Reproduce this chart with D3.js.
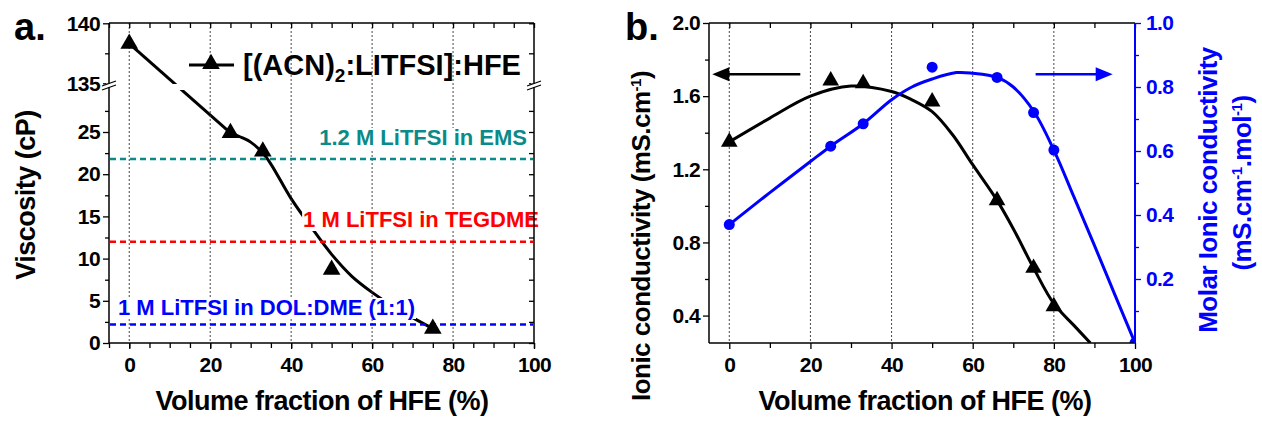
<!DOCTYPE html>
<html>
<head>
<meta charset="utf-8">
<script src="https://cdn.jsdelivr.net/npm/d3@7"></script>
<style>
  body { margin: 0; background: #fff; }
  svg text { font-family: 'Liberation Sans', Arial, Helvetica, sans-serif; font-weight: bold; }
  .tick text { letter-spacing: -0.6px; }
  .title { letter-spacing: -0.5px; }
</style>
</head>
<body>
<script>
// ---------- shared x axis ----------
const xTickValues = [0, 20, 40, 60, 80, 100];

// ---------- panel a: viscosity ----------
const viscX = [0, 25, 33, 50, 75];
const viscY = [138.3, 24.9, 22.7, 8.7, 1.7];
// smoothed guide curve
const viscFitX = [0, 25, 28, 30, 33, 35, 40, 45, 50, 55, 60, 65, 70, 75];
const viscFitY = [138.3, 24.9, 24.3, 23.8, 22.5, 21.2, 17.1, 13.7, 10.5, 7.9, 6.0, 4.4, 3.0, 1.7];
const viscTicksLow = [0, 5, 10, 15, 20, 25];
const viscMinorLow = [2.5, 7.5, 12.5, 17.5, 22.5, 27.5];
const viscTicksHigh = [135, 140];
const viscMinorHigh = [137.5];
const refNames = ["1.2 M LiTFSI in EMS", "1 M LiTFSI in TEGDME", "1 M LiTFSI in DOL:DME (1:1)"];
const refValues = [21.8, 12.0, 2.2];
const refColors = ["#0b8a8a", "#ff0000", "#0000ff"];

// ---------- panel b: conductivity ----------
const condX = [0, 25, 33, 50, 66, 75, 80];
const ionicCond = [1.35, 1.685, 1.67, 1.57, 1.03, 0.66, 0.45];
const ionicFitX = [0, 10, 20, 30, 40, 45, 50, 55, 60, 66, 70, 75, 80, 85, 89];
const ionicFitY = [1.35, 1.48, 1.60, 1.655, 1.625, 1.58, 1.515, 1.39, 1.225, 1.03, 0.875, 0.66, 0.465, 0.345, 0.25];
const molarX = [0, 25, 33, 50, 66, 75, 80, 100];
const molarCond = [0.37, 0.615, 0.685, 0.862, 0.83, 0.72, 0.603, 0.0];
const molarFitX = [0, 10, 20, 25, 33, 40, 45, 50, 56, 60, 66, 70, 75, 80, 85, 90, 95, 100];
const molarFitY = [0.37, 0.47, 0.567, 0.615, 0.685, 0.76, 0.80, 0.825, 0.845, 0.843, 0.83, 0.80, 0.725, 0.603, 0.455, 0.305, 0.152, 0.0];
const ionicTicks = [0.4, 0.8, 1.2, 1.6, 2.0];
const ionicMinor = [0.6, 1.0, 1.4, 1.8];
const molarTicks = [0.2, 0.4, 0.6, 0.8, 1.0];
const molarMinor = [0.1, 0.3, 0.5, 0.7, 0.9];

const W = 1262, H = 421;
const BLUE = "#0000ff";
const TICK_FONT = 21;
const svg = d3.select("body").append("svg").attr("width", W).attr("height", H);

function styleAxis(g, color, size) {
  g.select(".domain").remove();
  g.selectAll(".tick line").attr("stroke", color).attr("stroke-width", 1.3);
  g.selectAll(".tick text").attr("fill", color).style("font-size", size + "px");
}

// ======================= panel a =======================
const A = { l: 109, r: 534, t: 23, b: 343 };
const xa = d3.scaleLinear().domain([-5, 100]).range([A.l, A.r]);
const yaLow = d3.scaleLinear().domain([0, 25]).range([343, 132]);
const yaHigh = d3.scaleLinear().domain([135, 140]).range([83.3, 23.3]);
const ya = v => (v >= 100 ? yaHigh(v) : yaLow(v));
const gA = svg.append("g");

const viscPts = d3.zip(viscFitX, viscFitY);
// straight run across the axis break
gA.append("path")
  .attr("d", d3.line().x(d => xa(d[0])).y(d => ya(d[1]))(viscPts.slice(0, 2)))
  .attr("fill", "none").attr("stroke", "#000").attr("stroke-width", 3);
// smooth run below the break
gA.append("path")
  .attr("d", d3.line().curve(d3.curveCatmullRom).x(d => xa(d[0])).y(d => ya(d[1]))(viscPts.slice(1)))
  .attr("fill", "none").attr("stroke", "#000").attr("stroke-width", 3);
// gap at the axis break
gA.append("rect").attr("x", A.l + 1).attr("y", 84).attr("width", A.r - A.l - 2).attr("height", 6).attr("fill", "#fff");

// vertical grid
gA.selectAll("line.grid").data(xTickValues.filter(v => v < 100)).join("line")
  .attr("x1", d => xa(d)).attr("x2", d => xa(d)).attr("y1", A.t).attr("y2", A.b)
  .attr("stroke", "#333").attr("stroke-width", 0.9).attr("stroke-dasharray", "2,2");

// reference electrolytes
gA.selectAll("line.ref").data(refValues).join("line")
  .attr("x1", A.l + 1).attr("x2", A.r - 1)
  .attr("y1", d => ya(d)).attr("y2", d => ya(d))
  .attr("stroke", (d, i) => refColors[i]).attr("stroke-width", 2.6).attr("stroke-dasharray", "6,4");

const refPos = [
  { x: 527, y: 145, anchor: "end" },
  { x: 539, y: 227, anchor: "end" },
  { x: 118, y: 315, anchor: "start" }
];
refNames.forEach((name, i) => {
  const g = gA.append("g");
  const t = g.append("text").attr("x", refPos[i].x).attr("y", refPos[i].y)
    .attr("text-anchor", refPos[i].anchor).attr("fill", refColors[i])
    .style("font-size", "22px").text(name);
  const bb = t.node().getBBox();
  g.insert("rect", "text").attr("x", bb.x - 1).attr("y", bb.y + 3).attr("width", bb.width + 2)
    .attr("height", bb.height - 4).attr("fill", "#fff");
});

// data markers
const tri = d3.symbol(d3.symbolTriangle, 135);
gA.selectAll("path.pt").data(d3.zip(viscX, viscY)).join("path")
  .attr("transform", d => `translate(${xa(d[0])},${ya(d[1])})`)
  .attr("d", tri).attr("fill", "#000");

// legend
gA.append("line").attr("x1", 189).attr("x2", 234).attr("y1", 65).attr("y2", 65)
  .attr("stroke", "#000").attr("stroke-width", 3);
gA.append("path").attr("transform", "translate(211,64)").attr("d", tri).attr("fill", "#000");
const leg = gA.append("text").attr("x", 243).attr("y", 75).style("font-size", "29px");
leg.append("tspan").text("[(ACN)");
leg.append("tspan").attr("dy", 7).style("font-size", "19px").text("2");
leg.append("tspan").attr("dy", -7).text(":LITFSI]:HFE");

// axes
const axA = svg.append("g");
styleAxis(axA.append("g").attr("transform", `translate(0,${A.b})`)
  .call(d3.axisBottom(xa).tickValues(xTickValues).tickSize(6).tickPadding(8)), "#000", TICK_FONT);
styleAxis(axA.append("g").attr("transform", `translate(0,${A.b})`)
  .call(d3.axisBottom(xa).tickValues(d3.range(-5, 101, 5)).tickSize(5).tickFormat("")), "#000", TICK_FONT);
styleAxis(axA.append("g").attr("transform", `translate(0,${A.t})`)
  .call(d3.axisTop(xa).tickValues(d3.range(-5, 101, 5)).tickSize(-5).tickFormat("")), "#000", TICK_FONT);
[yaLow, yaHigh].forEach((sc, k) => {
  const major = k === 0 ? viscTicksLow : viscTicksHigh;
  const minor = k === 0 ? viscMinorLow : viscMinorHigh;
  styleAxis(axA.append("g").attr("transform", `translate(${A.l},0)`)
    .call(d3.axisLeft(sc).tickValues(major).tickSize(6).tickPadding(3).tickFormat(d3.format("d"))), "#000", TICK_FONT);
  styleAxis(axA.append("g").attr("transform", `translate(${A.l},0)`)
    .call(d3.axisLeft(sc).tickValues(minor).tickSize(4).tickFormat("")), "#000", TICK_FONT);
  styleAxis(axA.append("g").attr("transform", `translate(${A.r},0)`)
    .call(d3.axisRight(sc).tickValues(major.concat(minor)).tickSize(-5).tickFormat("")), "#000", TICK_FONT);
});
// frame
[[A.l, A.t, A.r, A.t], [A.l, A.b, A.r, A.b], [A.l, A.t, A.l, A.b], [A.r, A.t, A.r, A.b]].forEach(s =>
  axA.append("line").attr("x1", s[0]).attr("y1", s[1]).attr("x2", s[2]).attr("y2", s[3])
    .attr("stroke", "#000").attr("stroke-width", 1.5));
// break marks
[A.l, A.r].forEach(x => {
  axA.append("rect").attr("x", x - 3).attr("y", 83.5).attr("width", 6).attr("height", 3.5).attr("fill", "#fff");
  axA.append("line").attr("x1", x - 7).attr("y1", 86).attr("x2", x + 7).attr("y2", 81).attr("stroke", "#000").attr("stroke-width", 1.3);
  axA.append("line").attr("x1", x - 7).attr("y1", 90).attr("x2", x + 7).attr("y2", 85).attr("stroke", "#000").attr("stroke-width", 1.3);
});

svg.append("text").attr("x", 14).attr("y", 40).style("font-size", "38px").text("a.");
svg.append("text").attr("class", "title").attr("transform", "translate(35,195) rotate(-90)").attr("text-anchor", "middle")
  .style("font-size", "27px").text("Viscosity (cP)");
svg.append("text").attr("class", "title").attr("x", 322).attr("y", 410).attr("text-anchor", "middle")
  .style("font-size", "27px").text("Volume fraction of HFE (%)");

// ======================= panel b =======================
const B = { l: 709, r: 1135, t: 23, b: 343 };
const xb = d3.scaleLinear().domain([-5, 100]).range([B.l, B.r]);
const yb = d3.scaleLinear().domain([0.25, 2.0]).range([B.b, B.t]);
const yr = d3.scaleLinear().domain([0, 1.0]).range([B.b, B.t]);
const gB = svg.append("g");
svg.append("defs").append("clipPath").attr("id", "clipB").append("rect")
  .attr("x", B.l).attr("y", B.t).attr("width", B.r - B.l).attr("height", B.b - B.t);

gB.selectAll("line.grid").data(xTickValues.filter(v => v < 100)).join("line")
  .attr("x1", d => xb(d)).attr("x2", d => xb(d)).attr("y1", B.t).attr("y2", B.b)
  .attr("stroke", "#333").attr("stroke-width", 0.9).attr("stroke-dasharray", "2,2");

const plotB = gB.append("g").attr("clip-path", "url(#clipB)");
plotB.append("path")
  .attr("d", d3.line().curve(d3.curveCatmullRom).x(d => xb(d[0])).y(d => yb(d[1]))(d3.zip(ionicFitX, ionicFitY)))
  .attr("fill", "none").attr("stroke", "#000").attr("stroke-width", 3);
plotB.append("path")
  .attr("d", d3.line().curve(d3.curveCatmullRom).x(d => xb(d[0])).y(d => yr(d[1]))(d3.zip(molarFitX, molarFitY)))
  .attr("fill", "none").attr("stroke", BLUE).attr("stroke-width", 3);
plotB.selectAll("path.tri").data(d3.zip(condX, ionicCond)).join("path")
  .attr("transform", d => `translate(${xb(d[0])},${yb(d[1])})`)
  .attr("d", d3.symbol(d3.symbolTriangle, 120)).attr("fill", "#000");
plotB.selectAll("circle").data(d3.zip(molarX, molarCond)).join("circle")
  .attr("cx", d => xb(d[0])).attr("cy", d => yr(d[1])).attr("r", 5.5).attr("fill", BLUE);

// arrows pointing to each series' axis
function arrow(x1, x2, y, color) {
  const dir = Math.sign(x2 - x1);
  gB.append("line").attr("x1", x1).attr("x2", x2 - dir * 10).attr("y1", y).attr("y2", y)
    .attr("stroke", color).attr("stroke-width", 2.6);
  gB.append("path").attr("d", `M${x2},${y} L${x2 - dir * 17},${y - 7} L${x2 - dir * 17},${y + 7} Z`).attr("fill", color);
}
arrow(xb(17.5), xb(-4.2), yb(1.72), "#000");
arrow(xb(75.5), xb(94.5), yr(0.84), BLUE);

const axB = svg.append("g");
styleAxis(axB.append("g").attr("transform", `translate(0,${B.b})`)
  .call(d3.axisBottom(xb).tickValues(xTickValues).tickSize(6).tickPadding(8)), "#000", TICK_FONT);
styleAxis(axB.append("g").attr("transform", `translate(0,${B.b})`)
  .call(d3.axisBottom(xb).tickValues(d3.range(10, 100, 20)).tickSize(5).tickFormat("")), "#000", TICK_FONT);
styleAxis(axB.append("g").attr("transform", `translate(0,${B.t})`)
  .call(d3.axisTop(xb).tickValues(d3.range(0, 101, 10)).tickSize(-5).tickFormat("")), "#000", TICK_FONT);
styleAxis(axB.append("g").attr("transform", `translate(${B.l},0)`)
  .call(d3.axisLeft(yb).tickValues(ionicTicks).tickSize(6).tickPadding(3).tickFormat(d3.format(".1f"))), "#000", TICK_FONT);
styleAxis(axB.append("g").attr("transform", `translate(${B.l},0)`)
  .call(d3.axisLeft(yb).tickValues(ionicMinor).tickSize(4).tickFormat("")), "#000", TICK_FONT);
styleAxis(axB.append("g").attr("transform", `translate(${B.r},0)`)
  .call(d3.axisRight(yr).tickValues(molarTicks).tickSize(6).tickPadding(5).tickFormat(d3.format(".1f"))), BLUE, TICK_FONT);
styleAxis(axB.append("g").attr("transform", `translate(${B.r},0)`)
  .call(d3.axisRight(yr).tickValues(molarMinor).tickSize(4).tickFormat("")), BLUE, TICK_FONT);
[[B.l, B.t, B.r, B.t, "#000"], [B.l, B.b, B.r, B.b, "#000"], [B.l, B.t, B.l, B.b, "#000"], [B.r, B.t, B.r, B.b, BLUE]].forEach(s =>
  axB.append("line").attr("x1", s[0]).attr("y1", s[1]).attr("x2", s[2]).attr("y2", s[3])
    .attr("stroke", s[4]).attr("stroke-width", s[4] === BLUE ? 2 : 1.5));

svg.append("text").attr("x", 625).attr("y", 40).style("font-size", "38px").text("b.");
const lt = svg.append("text").attr("class", "title").attr("transform", "translate(650,236) rotate(-90)").attr("text-anchor", "middle")
  .style("font-size", "26px");
lt.append("tspan").text("Ionic conductivity (mS.cm");
lt.append("tspan").attr("dy", -9).style("font-size", "15px").text("-1");
lt.append("tspan").attr("dy", 9).text(")");

svg.append("text").attr("class", "title").attr("transform", "translate(1217,190) rotate(-90)").attr("text-anchor", "middle")
  .attr("fill", BLUE).style("font-size", "26px").text("Molar Ionic conductivity");
const rt = svg.append("text").attr("class", "title").attr("transform", "translate(1251,183) rotate(-90)").attr("text-anchor", "middle")
  .attr("fill", BLUE).style("font-size", "26px");
rt.append("tspan").text("(mS.cm");
rt.append("tspan").attr("dy", -9).style("font-size", "15px").text("-1");
rt.append("tspan").attr("dy", 9).text(".mol");
rt.append("tspan").attr("dy", -9).style("font-size", "15px").text("-1");
rt.append("tspan").attr("dy", 9).text(")");

svg.append("text").attr("class", "title").attr("x", 925).attr("y", 410).attr("text-anchor", "middle")
  .style("font-size", "27px").text("Volume fraction of HFE (%)");
</script>
</body>
</html>
